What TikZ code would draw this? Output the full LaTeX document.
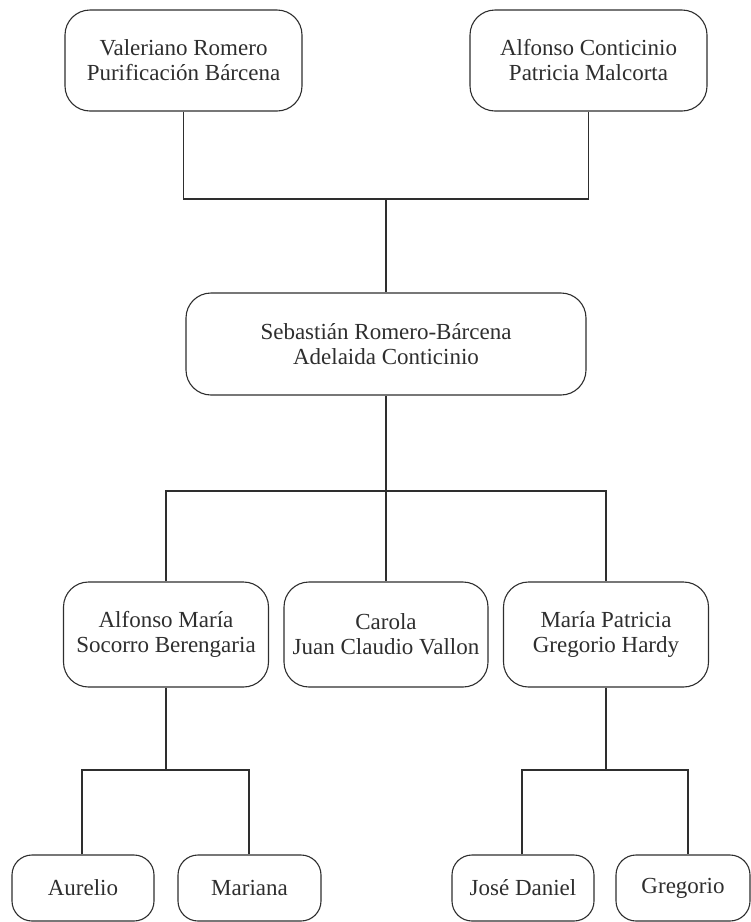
\documentclass[tikz,border=0pt]{standalone}
\usepackage{fontspec}
\setmainfont{Liberation Serif}
\definecolor{ink}{HTML}{2E2E2E}
\begin{document}
\begin{tikzpicture}[x=1pt,y=-1pt,
  person/.style={draw=ink, line width=1.1pt, rounded corners=25pt, inner sep=0pt,
    align=center, text=ink, font=\fontsize{23}{25}\selectfont},
  small/.style={person, rounded corners=20pt, minimum height=66pt},
  link/.style={draw=ink, line width=1.1pt}]
\useasboundingbox (0,0) rectangle (751,922);
% top generation
\node[person, minimum width=237pt, minimum height=101pt] (vr) at (183.5,60.5) {Valeriano Romero\\Purificación Bárcena};
\node[person, minimum width=237pt, minimum height=101pt] (ac) at (588.5,60.5) {Alfonso Conticinio\\Patricia Malcorta};
% middle
\node[person, minimum width=400pt, minimum height=102pt] (sr) at (386,344) {Sebastián Romero-Bárcena\\Adelaida Conticinio};
% children
\node[person, minimum width=205pt, minimum height=105pt] (am) at (166,634.5) {Alfonso María\\Socorro Berengaria};
\node[person, minimum width=204pt, minimum height=105pt] (ca) at (386,634.5) {Carola\\Juan Claudio Vallon};
\node[person, minimum width=205pt, minimum height=105pt] (mp) at (606,634.5) {María Patricia\\Gregorio Hardy};
% grandchildren
\node[small, minimum width=142pt] (au) at (83,888) {Aurelio};
\node[small, minimum width=143pt] (ma) at (249.5,888) {Mariana};
\node[small, minimum width=142pt] (jd) at (523,888) {José Daniel};
\node[small, minimum width=134pt] (gr) at (683,888) {Gregorio};
% junctions
\coordinate (j1) at (386,199);
\coordinate (j2) at (386,491);
\coordinate (j3) at (166,770);
\coordinate (j4) at (606,770);
% connectors
\draw[link] (vr.south) |- (j1) -| (ac.south);
\draw[link] (j1) -- (sr.north);
\draw[link] (sr.south) -- (ca.north);
\draw[link] (am.north) |- (j2) -| (mp.north);
\draw[link] (am.south) -- (j3);
\draw[link] ([xshift=-1pt]au.north) |- (j3) -| ([xshift=-0.5pt]ma.north);
\draw[link] (mp.south) -- (j4);
\draw[link] ([xshift=-1pt]jd.north) |- (j4) -| ([xshift=5pt]gr.north);
\end{tikzpicture}
\end{document}
